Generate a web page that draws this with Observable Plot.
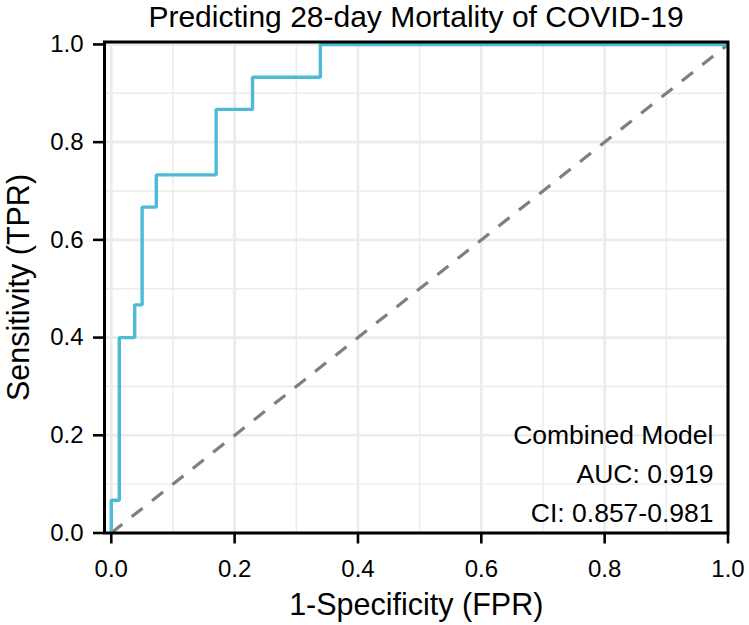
<!DOCTYPE html>
<html>
<head>
<meta charset="utf-8">
<script src="https://cdn.jsdelivr.net/npm/d3@7"></script>
<script src="https://cdn.jsdelivr.net/npm/@observablehq/plot@0.6"></script>
<style>
  html, body { margin: 0; padding: 0; background: #fff; }
  #chart { width: 749px; height: 625px; overflow: hidden; font-family: "Liberation Sans", Arial, sans-serif; }
  #title { height: 30px; line-height: normal; font-size: 30px; text-align: center; padding-left: 83px; color: #000; white-space: nowrap; overflow: visible; }
  #chart svg { display: block; }
</style>
</head>
<body>
<div id="chart">
  <div id="title">Predicting 28-day Mortality of COVID-19</div>
</div>
<script>
// ROC curve corner points (step-after)
const fpr = [0, 0, 0.013, 0.038, 0.05, 0.073, 0.17, 0.229, 0.339, 1];
const tpr = [0, 0.067, 0.4, 0.467, 0.667, 0.733, 0.867, 0.933, 1, 1];
// reference diagonal
const diagX = [0, 1];
const diagY = [0, 1];
// ticks
const majorTicks = [0, 0.2, 0.4, 0.6, 0.8, 1.0];
const minorTicks = [0.1, 0.3, 0.5, 0.7, 0.9];
// annotation
const modelName = "Combined Model";
const aucText = "AUC: 0.919";
const ciText = "CI: 0.857-0.981";
const xLabel = "1-Specificity (FPR)";
const yLabel = "Sensitivity (TPR)";

const roc = fpr.map((f, i) => ({fpr: f, tpr: tpr[i]}));
const diag = diagX.map((x, i) => ({x, y: diagY[i]}));
const grid = "#ebebeb";

const chart = Plot.plot({
  width: 749,
  height: 595,
  marginTop: 11.5,
  marginBottom: 92.5,
  marginLeft: 104,
  marginRight: 21.5,
  style: {fontFamily: '"Liberation Sans", Arial, sans-serif', fontSize: "24px", color: "black", background: "white", overflow: "visible"},
  x: {domain: [-0.011, 1]},
  y: {domain: [0, 1.005]},
  marks: [
    Plot.gridX(minorTicks, {stroke: grid, strokeOpacity: 1, strokeWidth: 1.4}),
    Plot.gridY(minorTicks, {stroke: grid, strokeOpacity: 1, strokeWidth: 1.4}),
    Plot.gridX(majorTicks, {stroke: grid, strokeOpacity: 1, strokeWidth: 2.6}),
    Plot.gridY(majorTicks, {stroke: grid, strokeOpacity: 1, strokeWidth: 2.6}),
    Plot.line(diag, {x: "x", y: "y", stroke: "#7f7f7f", strokeWidth: 3.2, strokeDasharray: "14,12", strokeLinecap: "butt"}),
    Plot.line(roc, {x: "fpr", y: "tpr", curve: "step-after", stroke: "#4DBBD5", strokeWidth: 3.4, strokeLinejoin: "miter", strokeLinecap: "butt"}),
    Plot.axisX({ticks: majorTicks, tickFormat: d3.format(".1f"), tickSize: 11, tickPadding: 16, fontSize: 24, strokeWidth: 2.6, label: null}),
    Plot.axisY({ticks: majorTicks, tickFormat: d3.format(".1f"), tickSize: 11, tickPadding: 10, fontSize: 24, strokeWidth: 2.6, label: null}),
    Plot.text([modelName + "\n" + aucText + "\n" + ciText], {text: d => d, frameAnchor: "bottom-right", textAnchor: "end", lineAnchor: "bottom", lineHeight: 1.47, dx: -14.5, dy: -11.5, fontSize: 26.5, fill: "black"}),
    Plot.text([xLabel], {text: d => d, frameAnchor: "bottom", textAnchor: "middle", lineAnchor: "middle", dy: 72, fontSize: 30.5, fill: "black"}),
    Plot.text([yLabel], {text: d => d, frameAnchor: "left", textAnchor: "middle", lineAnchor: "middle", rotate: -90, dx: -85, fontSize: 30.5, fill: "black"}),
    Plot.frame({stroke: "black", strokeWidth: 3})
  ]
});
document.getElementById("chart").appendChild(chart);
</script>
</body>
</html>
